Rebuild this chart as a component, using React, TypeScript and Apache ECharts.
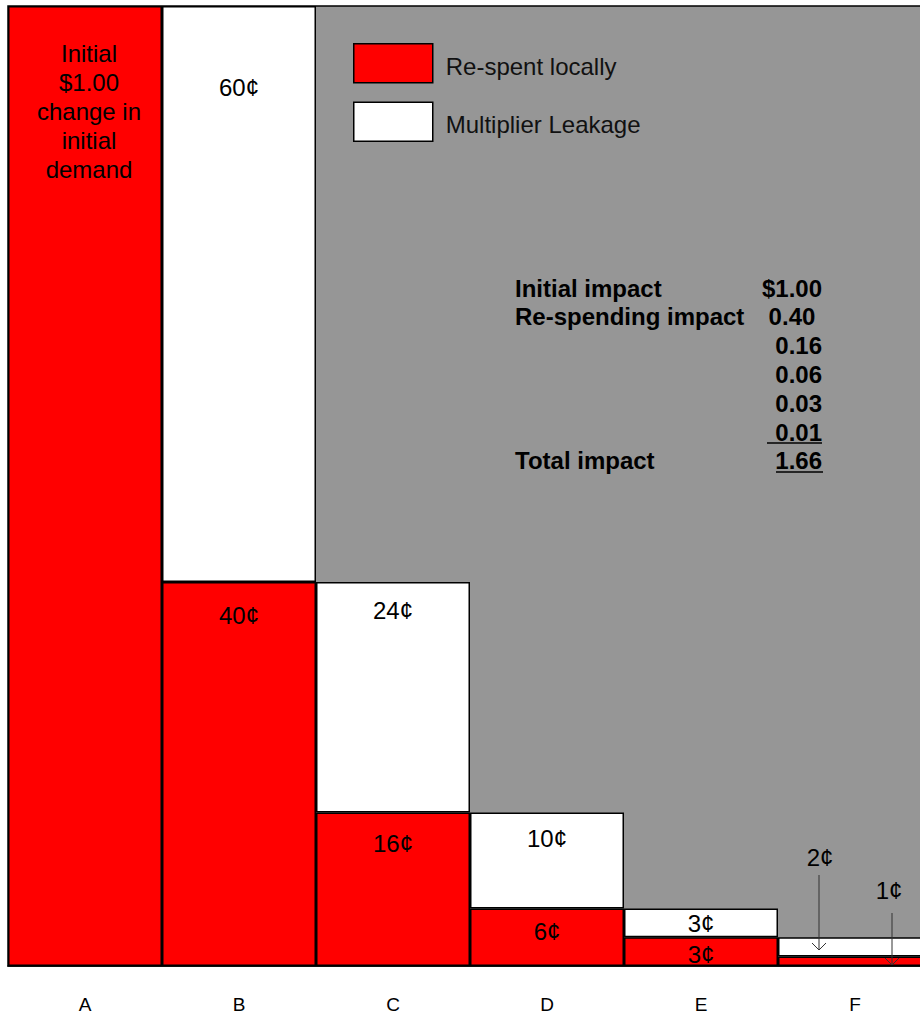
import React, { useEffect, useRef } from "react";
import * as echarts from "echarts";

const categories = ["A", "B", "C", "D", "E", "F"];
const respent = [1.0, 0.4, 0.16, 0.06, 0.03, 0.01];
const leakage = [null, 0.6, 0.24, 0.1, 0.03, 0.02];
const respentLabelDist = [33, 19, 17, 9, 3, null];
const leakageLabelDist = [null, 67, 14, 12, 1, null];
const summaryLabels = ["Initial impact", "Re-spending impact", "", "", "", "", "Total impact"];
const summaryValues = ["$1.00", "0.40 ", "0.16", "0.06", "0.03", "0.01", "1.66"];

const FONT = "'Liberation Sans', Arial, Helvetica, sans-serif";

export default function App() {
  const ref = useRef<HTMLDivElement>(null);
  useEffect(() => {
    if (!ref.current) return;
    const chart = echarts.init(ref.current, undefined, { renderer: "svg" });
    const cents = (v: number) => `${Math.round(v * 100)}¢`;
    const redData = respent.map((v, i) => {
      const d = respentLabelDist[i];
      if (i === 0) {
        return {
          value: v,
          label: {
            show: true,
            position: "insideTop",
            distance: d,
            offset: [4, 0],
            formatter: "Initial\n$1.00\nchange in\ninitial\ndemand",
            lineHeight: 29,
          },
        };
      }
      return d === null
        ? { value: v, label: { show: false } }
        : { value: v, label: { show: true, position: "insideTop", distance: d, formatter: cents(v) } };
    });
    const whiteData = leakage.map((v, i) => {
      const d = leakageLabelDist[i];
      if (v === null) return "-";
      return d === null
        ? { value: v, label: { show: false } }
        : { value: v, label: { show: true, position: "insideTop", distance: d, formatter: cents(v) } };
    });

    const graphics: any[] = [];
    const rowY0 = 288;
    const rowH = 28.8;
    summaryLabels.forEach((t, i) => {
      if (t) {
        graphics.push({
          type: "text",
          x: 515,
          y: rowY0 + i * rowH,
          z: 100,
          style: { text: t, font: `bold 24px ${FONT}`, fill: "#000", align: "left", verticalAlign: "middle" },
        });
      }
    });
    summaryValues.forEach((t, i) => {
      graphics.push({
        type: "text",
        x: 822,
        y: rowY0 + i * rowH,
        z: 100,
        style: {
          text: t,
          font: `bold 24px ${FONT}`,
          fill: "#000",
          align: "right",
          verticalAlign: "middle",
        },
      });
    });
    const arrowStyle = { stroke: "#333", lineWidth: 1, fill: "none" };
    graphics.push(
      { type: "line", z: 100, shape: { x1: 767, y1: 443, x2: 822, y2: 443 }, style: { stroke: "#000", lineWidth: 1.5 } },
      { type: "line", z: 100, shape: { x1: 776, y1: 472, x2: 823, y2: 472 }, style: { stroke: "#000", lineWidth: 1.5 } },
      {
        type: "text",
        x: 820,
        y: 857,
        z: 100,
        style: { text: "2¢", font: `24px ${FONT}`, fill: "#000", align: "center", verticalAlign: "middle" },
      },
      { type: "line", z: 100, shape: { x1: 819, y1: 875, x2: 819, y2: 950 }, style: arrowStyle },
      {
        type: "polyline",
        z: 100,
        shape: { points: [[812, 943], [819, 950], [826, 943]] },
        style: arrowStyle,
      },
      {
        type: "text",
        x: 889,
        y: 890,
        z: 100,
        style: { text: "1¢", font: `24px ${FONT}`, fill: "#000", align: "center", verticalAlign: "middle" },
      },
      { type: "line", z: 100, shape: { x1: 892, y1: 913, x2: 892, y2: 965 }, style: arrowStyle },
      {
        type: "polyline",
        z: 100,
        shape: { points: [[885, 958], [892, 965], [899, 958]] },
        style: arrowStyle,
      }
    );

    chart.setOption({
      animation: false,
      textStyle: { fontFamily: FONT },
      grid: {
        left: 8,
        top: 6,
        width: 924,
        height: 960,
        show: true,
        backgroundColor: "#969696",
        borderColor: "#000",
        borderWidth: 1.5,
      },
      legend: {
        orient: "vertical",
        left: 348,
        top: 38,
        itemWidth: 79,
        itemHeight: 39,
        itemGap: 18,
        icon: "rect",
        itemStyle: { borderColor: "#000", borderWidth: 1.5 },
        formatter: (name: string) => `{t|${name}}`,
        textStyle: {
          fontSize: 24,
          color: "#111",
          fontFamily: FONT,
          rich: { t: { fontSize: 24, color: "#111", fontFamily: FONT, padding: [6, 0, 0, 8] } },
        },
        data: ["Re-spent locally", "Multiplier Leakage"],
      },
      xAxis: {
        type: "category",
        data: categories,
        axisTick: { show: false },
        axisLine: { lineStyle: { color: "#000", width: 1.5 } },
        axisLabel: { margin: 29, fontSize: 19, color: "#000", fontFamily: FONT },
      },
      yAxis: { type: "value", min: 0, max: 1, show: false, splitLine: { show: false } },
      series: [
        {
          name: "Re-spent locally",
          type: "bar",
          stack: "total",
          barWidth: "100%",
          barCategoryGap: "0%",
          data: redData,
          itemStyle: { color: "#FF0000", borderColor: "#000", borderWidth: 1.5 },
          label: { color: "#000", fontSize: 24, fontFamily: FONT, lineHeight: 28 },
        },
        {
          name: "Multiplier Leakage",
          type: "bar",
          stack: "total",
          barWidth: "100%",
          barCategoryGap: "0%",
          data: whiteData,
          itemStyle: { color: "#FFFFFF", borderColor: "#000", borderWidth: 1.5 },
          label: { color: "#000", fontSize: 24, fontFamily: FONT, lineHeight: 28 },
        },
      ],
      graphic: graphics,
    });
    return () => chart.dispose();
  }, []);

  return (
    <div style={{ position: "absolute", left: 0, top: 0, width: 920, height: 1016, overflow: "hidden", background: "#fff" }}>
      <div ref={ref} style={{ width: 940, height: 1016 }} />
    </div>
  );
}
